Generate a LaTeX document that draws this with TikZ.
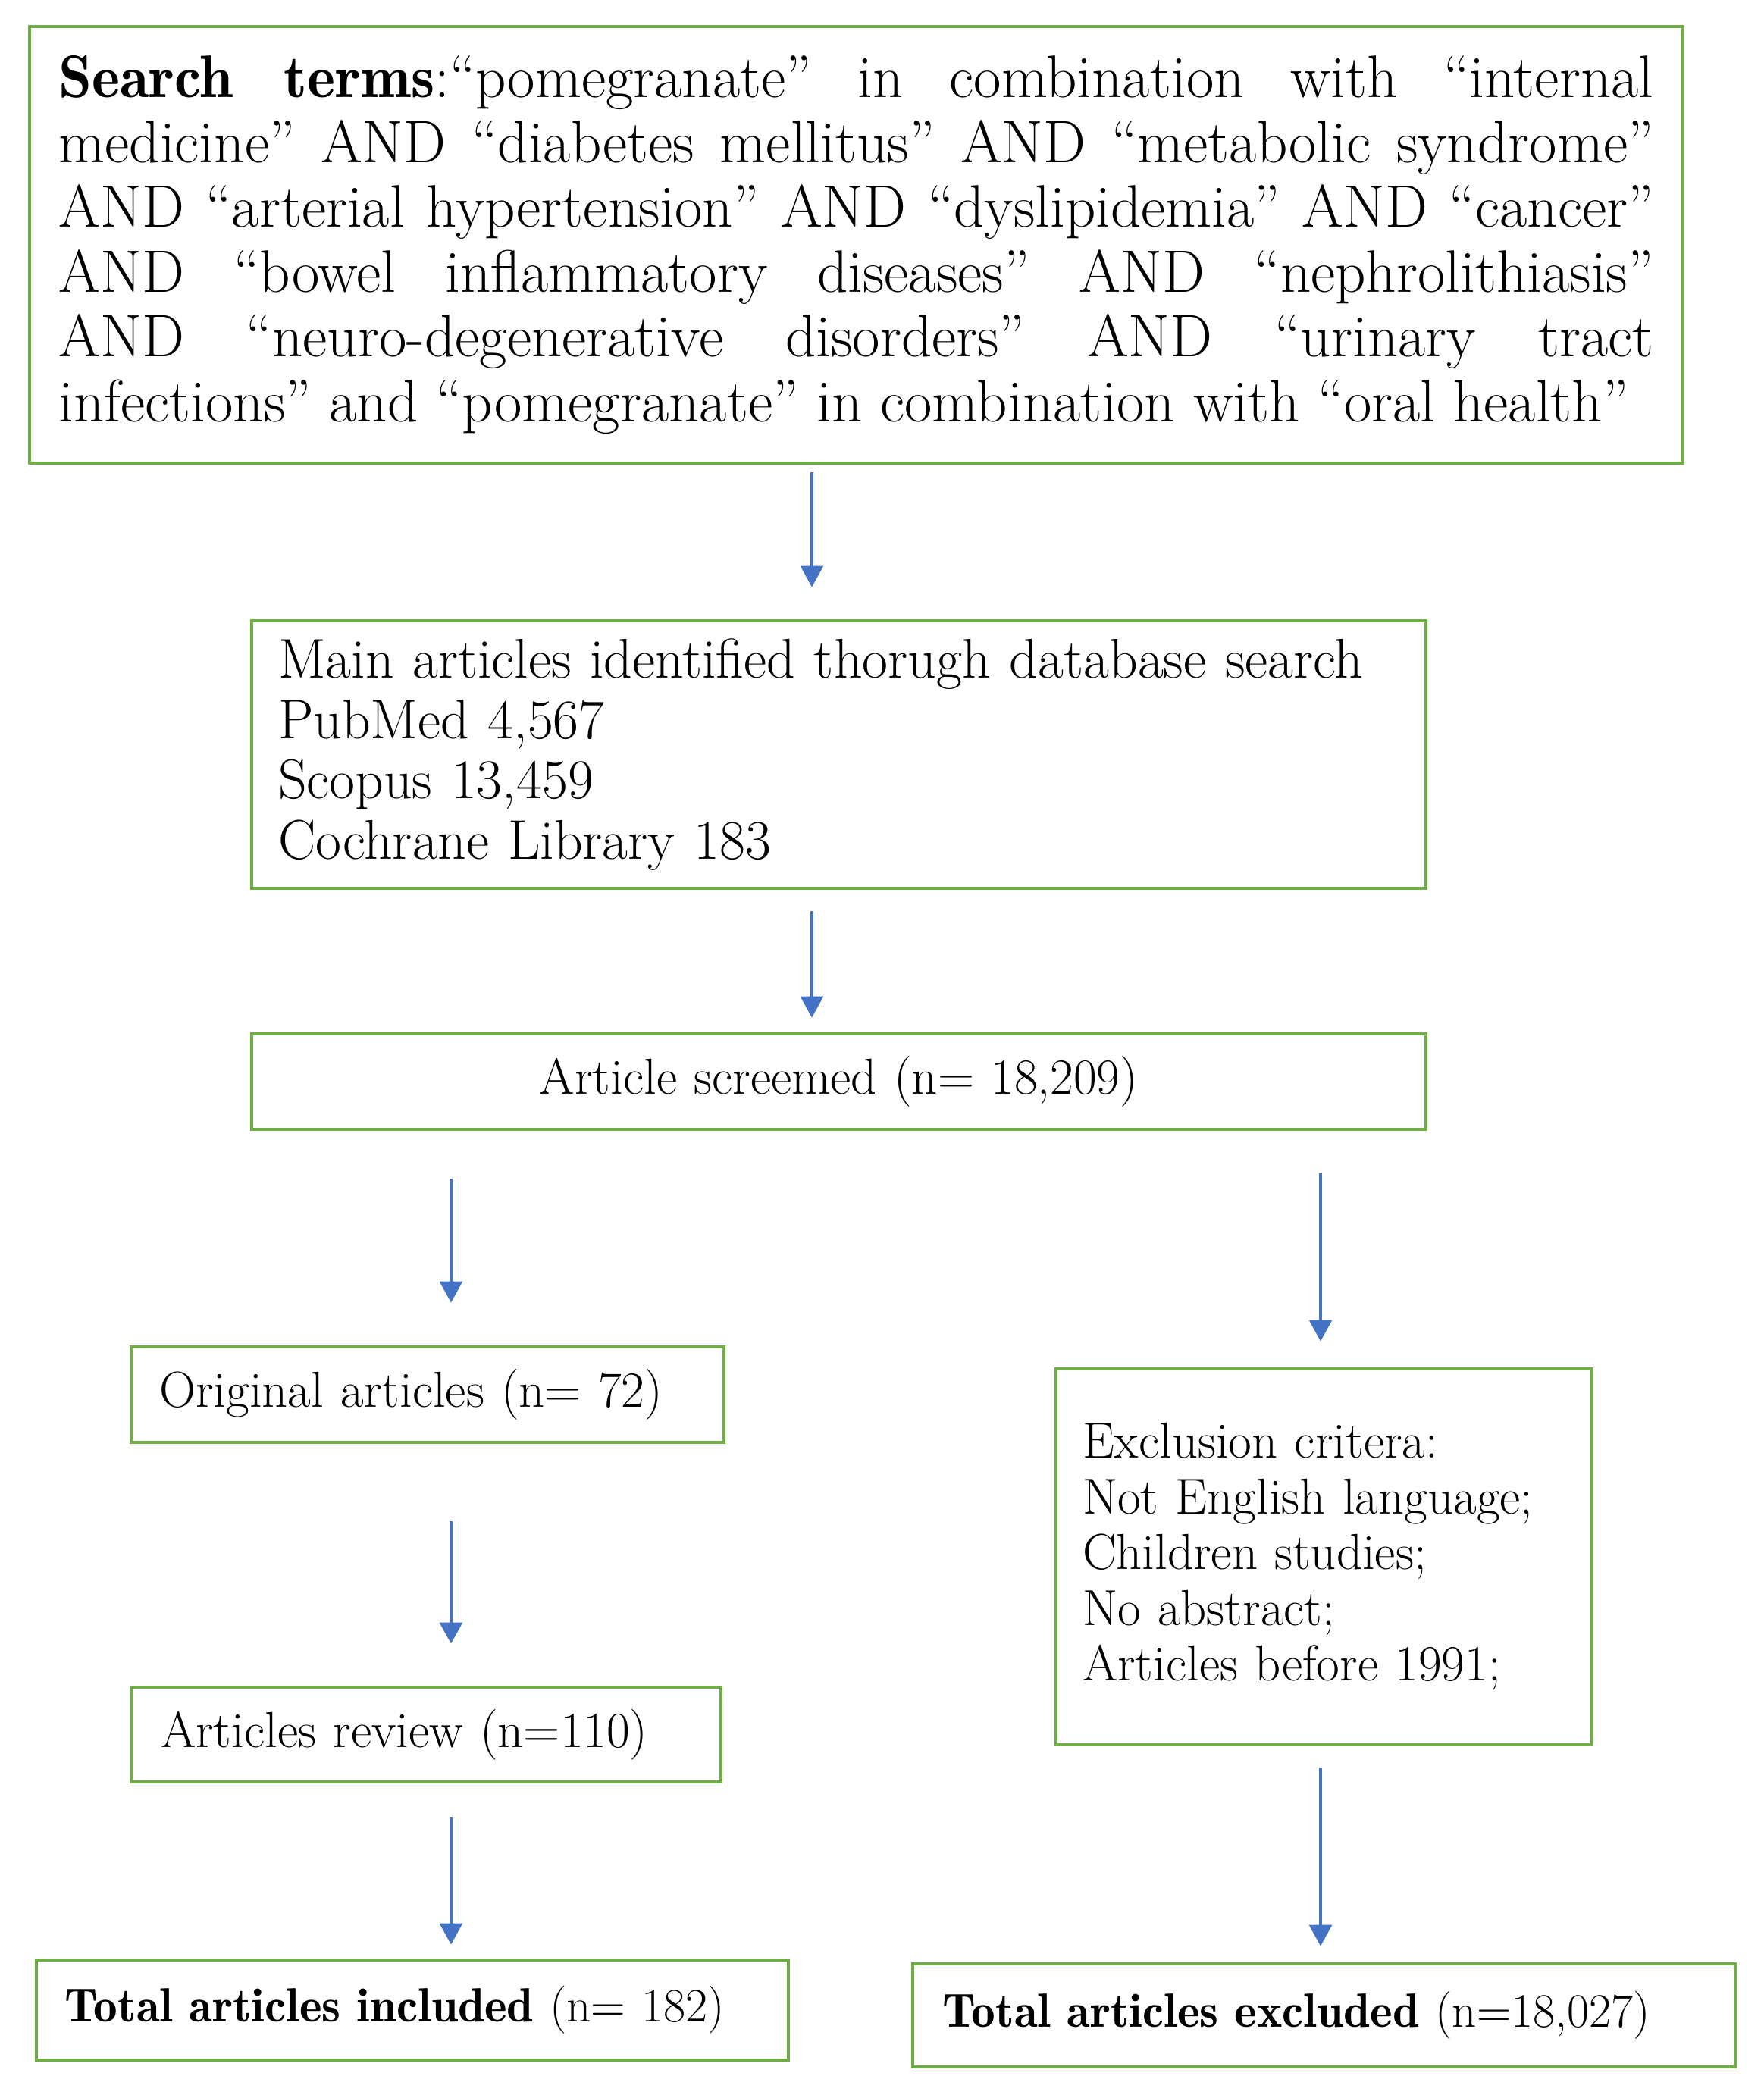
\documentclass[tikz,border=0pt]{standalone}
\usepackage{fontspec}
\usetikzlibrary{arrows.meta}
\definecolor{boxgreen}{RGB}{112,173,71}
\definecolor{arrowblue}{RGB}{68,114,196}
\newfontface\demiface{lmromandemi10-regular.otf}

\begin{document}
\begin{tikzpicture}[
  box/.style={draw=boxgreen, line width=1.4pt, inner ysep=0pt, font=\fontsize{19}{20.9}\selectfont},
  flow/.style={-{Triangle[width=3mm,length=2.8mm]}, arrowblue, line width=0.9pt}
]
  \useasboundingbox (0,0) rectangle (23.26,-27.68);

  % Search terms
  \draw (11.295,-3.23) node[box, text width=21.04cm, inner xsep=3.85mm, minimum height=5.76cm, align=justify, font=\fontsize{22.5}{24.3}\selectfont] (search) {\tolerance=10000\hyphenpenalty=10000%
    {\demiface Search terms}:“pomegranate” in combination with “internal\linebreak
    medicine” AND “diabetes mellitus” AND “metabolic syndrome”\linebreak
    AND “arterial hypertension” AND “dyslipidemia” AND “cancer”\linebreak
    AND “bowel inflammatory diseases” AND “nephrolithiasis”\linebreak
    AND “neuro-degenerative disorders” AND “urinary tract\linebreak
    infections” and “pomegranate” in combination with “oral health”};

  % Database search
  \draw (11.065,-9.955) node[box, text width=14.79cm, inner xsep=3.5mm, minimum height=3.53cm, align=left, font=\fontsize{21}{22.7}\selectfont] (found) {Main articles identified thorugh database search\\
    PubMed 4,567\\
    Scopus 13,459\\
    Cochrane Library 183};

  % Screening
  \draw (11.065,-14.27) node[box, text width=14.79cm, inner xsep=3.5mm, minimum height=1.26cm, align=center] (screened) {Article screemed (n= 18,209)};

  % Left branch
  \draw (5.64,-18.40) node[box, text width=7.08cm, inner xsep=3.7mm, minimum height=1.26cm, align=left] (original) {Original articles (n= 72)};
  \draw (5.62,-22.885) node[box, text width=7.0cm, inner xsep=3.9mm, minimum height=1.25cm, align=left] (review) {Articles review (n=110)};
  \draw (5.44,-26.52) node[box, text width=9.18cm, inner xsep=3.7mm, minimum height=1.32cm, align=left, font=\fontsize{18}{20}\selectfont] (included) {{\demiface Total articles included} (n= 182)};

  % Right branch
  \draw (17.465,-20.54) node[box, text width=6.37cm, inner xsep=3.5mm, minimum height=4.96cm, align=left] (exclusion) {Exclusion critera:\\
    Not English language;\\
    Children studies;\\
    No abstract;\\
    Articles before 1991;};
  \draw (17.465,-26.59) node[box, text width=10.07cm, inner xsep=3.9mm, minimum height=1.36cm, align=left, font=\fontsize{18}{20}\selectfont] (excluded) {{\demiface Total articles excluded} (n=18,027)};

  % Arrows
  \coordinate (mid) at (10.71,0);
  \coordinate (llane) at (5.95,0);
  \coordinate (rlane) at (17.42,0);
  \draw[flow, shorten <=1mm, shorten >=4.2mm] (search.south -| mid) -- (found.north -| mid);
  \draw[flow, shorten <=2.8mm, shorten >=1.9mm] (found.south -| mid) -- (screened.north -| mid);
  \draw[flow, shorten <=6.3mm, shorten >=5.6mm] (screened.south -| llane) -- (original.north -| llane);
  \draw[flow, shorten <=5.6mm, shorten >=3.4mm] (screened.south -| rlane) -- (exclusion.north -| rlane);
  \draw[flow, shorten <=10.2mm, shorten >=5.5mm] (original.south -| llane) -- (review.north -| llane);
  \draw[flow, shorten <=4.4mm, shorten >=1.8mm] (review.south -| llane) -- (included.north -| llane);
  \draw[flow, shorten <=2.8mm, shorten >=2.1mm] (exclusion.south -| rlane) -- (excluded.north -| rlane);

\end{tikzpicture}
\end{document}
